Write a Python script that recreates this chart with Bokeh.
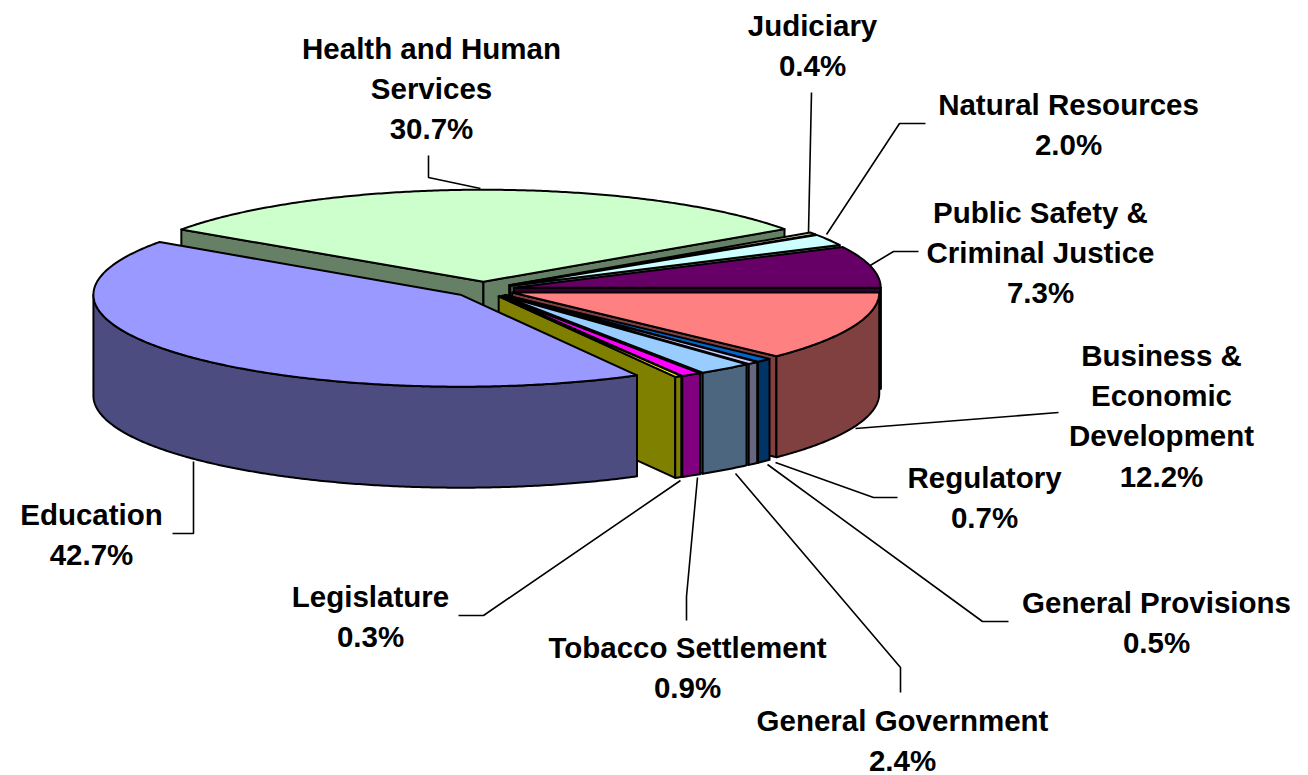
import numpy as np
from bokeh.plotting import figure
from bokeh.models import ColumnDataSource
from bokeh.core.properties import value
from bokeh.embed import file_html
from bokeh.resources import INLINE

# Budget shares in percent, clockwise from the back left of the pie
categories = ["Health and Human Services", "Judiciary", "Natural Resources",
              "Public Safety & Criminal Justice", "Business & Economic Development",
              "Regulatory", "General Provisions", "General Government",
              "Tobacco Settlement", "Legislature", "Education"]
shares = [30.7, 0.4, 2.0, 7.3, 12.2, 0.7, 0.5, 2.4, 0.9, 0.3, 42.7]
top_colors = ["#CCFFCC", "#FFFFCC", "#CCFFFF", "#660066", "#FF8080",
              "#0066CC", "#CCCCFF", "#99CCFF", "#FF00FF", "#FFFF00", "#9999FF"]
side_colors = ["#668066", "#808066", "#668080", "#330033", "#804040",
               "#003366", "#666680", "#4C6680", "#800080", "#808000", "#4C4C80"]

# Label text broken into its printed lines, with the anchor of the block
label_lines = [["Health and Human", "Services"], ["Judiciary"], ["Natural Resources"],
               ["Public Safety &", "Criminal Justice"], ["Business &", "Economic", "Development"],
               ["Regulatory"], ["General Provisions"], ["General Government"],
               ["Tobacco Settlement"], ["Legislature"], ["Education"]]
label_x = [431, 812, 1068, 1040, 1161, 984, 1156, 902, 687, 370, 91]
label_y = [48, 25, 104, 212, 355, 477, 602, 720, 647, 596, 514]
line_step = 40.2

# Leader lines between labels and slices
leader_xs = [[428, 428, 480], [811, 808], [925, 899, 826], [918, 893, 868],
             [1058, 855], [897, 873, 775], [1008, 982, 767], [900, 900, 735],
             [686, 686, 697], [458, 483, 680], [172, 193, 193]]
leader_ys = [[155, 177, 188], [92, 232], [123, 123, 234], [251, 251, 266],
             [412, 428], [497, 497, 462], [621, 621, 464], [692, 667, 473],
             [620, 596, 477], [615, 615, 480], [533, 533, 461]]

# Projection of the tilted disc
CX, CY = 483.0, 289.0
RX, RY = 367.0, 92.0
EXPLODE = 31.0
DEPTH = 101.0
START_DEG = -55.4


def rim(t_deg, ox, oy):
    t = np.radians(t_deg)
    return ox + RX * np.sin(t), oy - RY * np.cos(t)


xs, ys, fills = [], [], []


def add(px, py, color):
    xs.append(list(px))
    ys.append(list(py))
    fills.append(color)


angle = START_DEG
for share, top, side in zip(shares, top_colors, side_colors):
    t0, t1 = angle, angle + share * 3.6
    angle = t1
    mid = np.radians((t0 + t1) / 2)
    ox = CX + EXPLODE * np.sin(mid)
    oy = CY - EXPLODE * RY / RX * np.cos(mid)

    # radial cut faces, only those turned towards the viewer
    for t, visible in ((t0, -np.sin(np.radians(t0)) > 0), (t1, np.sin(np.radians(t1)) > 0)):
        if visible:
            rx, ry = rim(t, ox, oy)
            add([ox, rx, rx, ox], [oy, ry, ry + DEPTH, oy + DEPTH], side)

    # outer curved wall on the front half of the disc
    a0, a1 = max(t0, 90.0), min(t1, 270.0)
    if a1 > a0:
        steps = np.linspace(a0, a1, max(3, int((a1 - a0) * 2)))
        ax, ay = rim(steps, ox, oy)
        add(np.r_[ax, ax[::-1]], np.r_[ay, ay[::-1] + DEPTH], side)

    # top face
    steps = np.linspace(t0, t1, max(3, int((t1 - t0) * 2)))
    ax, ay = rim(steps, ox, oy)
    add(np.r_[ox, ax], np.r_[oy, ay], top)

p = figure(width=1308, height=775, x_range=(0, 1308), y_range=(775, 0),
           output_backend="svg", toolbar_location=None, min_border=0,
           outline_line_color=None, background_fill_color="white")
p.axis.visible = False
p.grid.visible = False

p.multi_line(leader_xs, leader_ys, line_color="black", line_width=1.6)
p.patches("x", "y", fill_color="c", line_color="black", line_width=2, line_join="round",
          source=ColumnDataSource(dict(x=xs, y=ys, c=fills)))

tx, ty, tt = [], [], []
for lines, share, x, y in zip(label_lines, shares, label_x, label_y):
    for i, line in enumerate(lines + [f"{share:.1f}%"]):
        tx.append(x)
        ty.append(y + i * line_step)
        tt.append(line)
p.text(tx, ty, text=tt, text_font=value("Liberation Sans"), text_font_style="bold",
       text_font_size="29.5px", text_align="center", text_baseline="middle", text_color="black")

open("out.html", "w").write(file_html(p, INLINE))
